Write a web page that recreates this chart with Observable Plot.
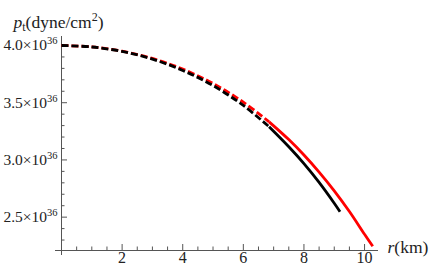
<!DOCTYPE html>
<html><head><meta charset="utf-8">
<script src="https://cdn.jsdelivr.net/npm/d3@7"></script>
<script src="https://cdn.jsdelivr.net/npm/@observablehq/plot@0.6"></script>
<style>body{margin:0;background:#fff}#chart svg{display:block}#chart svg text{font-family:"Liberation Serif","Times New Roman","DejaVu Serif",serif !important}</style>
</head><body><div id="chart"></div>
<script>
// Model 1 (black): dashed interior part, solid outer part
const rBlackDash = [0, 1, 2, 3, 4, 5, 6, 6.85];
const pBlackDash = [4.0, 3.987, 3.948, 3.881, 3.782, 3.650, 3.476, 3.290];
const rBlackSolid = [6.85, 7.5, 8, 8.5, 9, 9.19];
const pBlackSolid = [3.290, 3.115, 2.968, 2.804, 2.622, 2.548];
// Model 2 (red)
const rRedDash = [0, 1, 2, 3, 4, 5, 6, 6.85];
const pRedDash = [4.0, 3.988, 3.950, 3.887, 3.794, 3.668, 3.505, 3.333];
const rRedSolid = [6.85, 7.5, 8, 8.5, 9, 9.5, 10, 10.27];
const pRedSolid = [3.333, 3.178, 3.043, 2.894, 2.730, 2.549, 2.350, 2.245];

const xDomain = [0, 10.46];
const yDomain = [2.2086, 4.0786];
const xMajor = [2, 4, 6, 8, 10];
const xLabels = ["2", "4", "6", "8", "10"];
const xMinor = [0.5, 1, 1.5, 2.5, 3, 3.5, 4.5, 5, 5.5, 6.5, 7, 7.5, 8.5, 9, 9.5];
const yMajor = [2.5, 3.0, 3.5, 4.0];
const yLabels = ["2.5×10^36", "3.0×10^36", "3.5×10^36", "4.0×10^36"];
const yMinor = [2.3, 2.4, 2.6, 2.7, 2.8, 2.9, 3.1, 3.2, 3.3, 3.4, 3.6, 3.7, 3.8, 3.9];

const zip = (rs, ps) => rs.map((r, i) => ({r, p: ps[i]}));
const blackDash = zip(rBlackDash, pBlackDash);
const blackSolid = zip(rBlackSolid, pBlackSolid);
const redDash = zip(rRedDash, pRedDash);
const redSolid = zip(rRedSolid, pRedSolid);

const axisColor = "#555";
const textColor = "#222";
const lw = 2.8;
const serif = "Liberation Serif, Times New Roman, DejaVu Serif, serif";

const lineOpts = {x: "r", y: "p", strokeWidth: lw, strokeLinecap: "butt", strokeLinejoin: "miter", curve: "catmull-rom"};

const plot = Plot.plot({
  width: 436, height: 273,
  marginLeft: 61, marginRight: 58, marginTop: 36, marginBottom: 23,
  x: {domain: xDomain, axis: null},
  y: {domain: yDomain, axis: null},
  style: {background: "white"},
  marks: [
    // axes
    Plot.ruleY([yDomain[0]], {y: d => d, x1: 0, x2: xDomain[1], insetLeft: -6, stroke: axisColor, strokeWidth: 1}),
    Plot.ruleX([0], {x: d => d, y1: yDomain[0], y2: yDomain[1], insetTop: 5, stroke: axisColor, strokeWidth: 1}),
    // ticks
    Plot.ruleX(xMajor, {x: d => d, y1: yDomain[0], y2: yDomain[0], insetBottom: 6, stroke: axisColor}),
    Plot.ruleX(xMinor, {x: d => d, y1: yDomain[0], y2: yDomain[0], insetBottom: 3.5, stroke: axisColor}),
    Plot.ruleY(yMajor, {y: d => d, x1: 0, x2: 0, insetLeft: 6, stroke: axisColor}),
    Plot.ruleY(yMinor, {y: d => d, x1: 0, x2: 0, insetLeft: 3.5, stroke: axisColor}),
    // tick labels
    Plot.text(xMajor, {x: d => d, frameAnchor: "bottom", dy: 12, text: (d, i) => xLabels[i], fontSize: 16, fontFamily: serif, fill: textColor}),
    Plot.text(yMajor, {y: d => d, frameAnchor: "left", textAnchor: "end", dx: -4, text: (d, i) => yLabels[i], fontSize: 15.5, fontFamily: serif, fill: textColor}),
    // curves
    Plot.line(redDash, {...lineOpts, stroke: "#ff0000", strokeDasharray: "7,3"}),
    Plot.line(blackDash, {...lineOpts, stroke: "#000", strokeDasharray: "7,3"}),
    Plot.line(blackSolid, {...lineOpts, stroke: "#000"}),
    Plot.line(redSolid, {...lineOpts, stroke: "#ff0000"}),
    // axis labels
    Plot.text(["@title"], {text: d => d, frameAnchor: "top-left", textAnchor: "start", dx: -48, dy: -21, fontSize: 17.5, fontFamily: serif, fill: textColor}),
    Plot.text(["@rlabel"], {text: d => d, frameAnchor: "bottom-right", textAnchor: "start", dx: 9, dy: 2, fontSize: 17.5, fontFamily: serif, fill: textColor})
  ]
});

const svg = d3.select(plot);
svg.style("font-family", serif);
svg.selectAll("text").each(function () {
  const t = d3.select(this);
  const s = t.text();
  if (s === "@title") {
    t.text("");
    t.append("tspan").attr("font-style", "italic").text("p");
    t.append("tspan").attr("font-size", "12px").attr("dy", "3.5px").text("t");
    t.append("tspan").attr("dy", "-3.5px").text("(dyne/cm");
    t.append("tspan").attr("font-size", "12px").attr("dy", "-7px").text("2");
    t.append("tspan").attr("dy", "7px").text(")");
  } else if (s === "@rlabel") {
    t.text("");
    t.append("tspan").attr("font-style", "italic").text("r");
    t.append("tspan").text("(km)");
  } else if (s.includes("^")) {
    const [base, sup] = s.split("^");
    t.text(base);
    t.append("tspan").attr("font-size", "10.5px").attr("dy", "-6px").text(sup);
  }
});

document.getElementById("chart").appendChild(plot);
</script>
</body></html>
